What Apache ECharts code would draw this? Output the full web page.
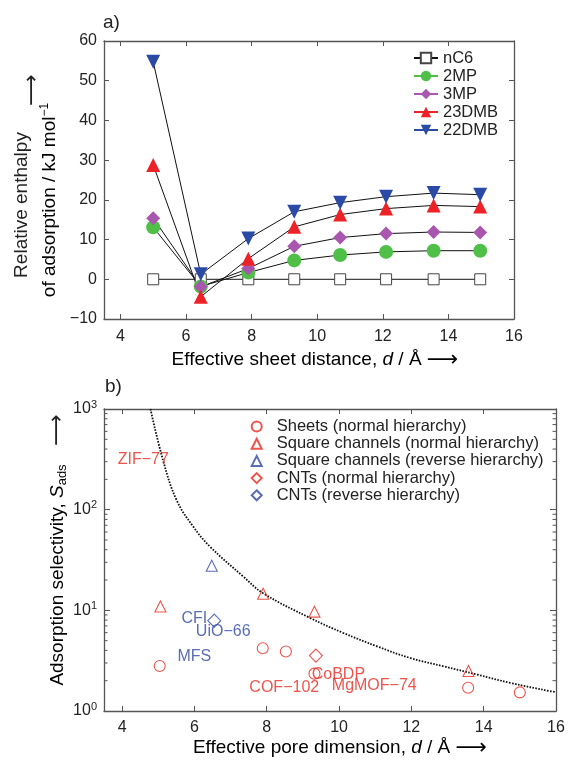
<!DOCTYPE html>
<html><head><meta charset="utf-8">
<script src="https://cdn.jsdelivr.net/npm/echarts@6/dist/echarts.min.js"></script>
<style>html,body{margin:0;padding:0;background:#fff}#c{width:568px;height:762px}</style>
</head><body><div id="c"></div>
<script>
const FONT = '"Liberation Sans", Arial, "DejaVu Sans", sans-serif';

// ---------- panel a ----------
const sheetDistance = [5.0, 6.45, 7.9, 9.3, 10.7, 12.1, 13.55, 14.97];
const nC6   = [0, 0, 0, 0, 0, 0, 0, 0];
const mp2   = [13.1, -1.8, 1.7, 4.75, 6.1, 6.9, 7.2, 7.2];
const mp3   = [15.4, -1.9, 2.7, 8.3, 10.5, 11.5, 11.9, 11.8];
const dmb23 = [28.8, -4.4, 5.2, 13.2, 16.3, 17.8, 18.6, 18.3];
const dmb22 = [54.8, 1.25, 10.25, 17.0, 19.3, 20.8, 21.7, 21.3];
const seriesNamesA = ['nC6', '2MP', '3MP', '23DMB', '22DMB'];

// ---------- panel b ----------
const sheetsD   = [5.04, 7.89, 8.53, 9.32, 13.57, 15.0];
const sheetsS   = [2.8, 4.2, 3.9, 2.35, 1.7, 1.53];
const sqNormD   = [5.06, 7.9, 9.32, 13.58];
const sqNormS   = [10.9, 14.6, 9.7, 2.5];
const sqRevD    = [6.48];
const sqRevS    = [27.7];
const cntNormD  = [9.36];
const cntNormS  = [3.55];
const cntRevD   = [6.55];
const cntRevS   = [7.9];
const curveD = [4.785, 5.13, 5.505, 5.965, 6.43, 7.35, 7.9, 9.2, 10.12, 11.05, 11.97, 12.89, 13.82, 14.74, 15.85, 16.0];
const curveS = [1000, 312, 125, 68, 43, 21.7, 14.8, 8.4, 5.96, 4.39, 3.36, 2.78, 2.3, 1.9, 1.57, 1.54];
const labelNames = ['ZIF\u221277', 'CFI', 'UiO\u221266', 'MFS', 'CoBDP', 'COF\u2212102', 'MgMOF\u221274'];
const labelD = [3.88, 5.64, 6.04, 5.53, 9.245, 7.52, 9.80];
const labelS = [312, 8.24, 6.08, 3.48, 2.29, 1.69, 1.78];
const labelIsBlue = [false, true, true, true, false, false, false];
const seriesNamesB = ['Sheets (normal hierarchy)', 'Square channels (normal hierarchy)',
  'Square channels (reverse hierarchy)', 'CNTs (normal hierarchy)', 'CNTs (reverse hierarchy)'];
const minorTicksB = [2,3,4,5,6,7,8,9,20,30,40,50,60,70,80,90,200,300,400,500,600,700,800,900];

const GREEN = '#4fbf47', PURPLE = '#a957ae', RED = '#ec2226', BLUE = '#2b4aa6';
const RED2 = '#e62a22', BLUE2 = '#3048a3';
const AX = '#555';

const zip = (xs, ys) => xs.map((x, i) => [x, ys[i]]);

const chart = echarts.init(document.getElementById('c'), null, {renderer: 'canvas'});

function xAxisDef(grid, pos, labels, margin) {
  return {
    type: 'value', gridIndex: grid, position: pos, min: 3.5, max: 16, splitNumber: 6,
    axisLine: {show: true, onZero: false, lineStyle: {color: AX, width: 1.3}},
    axisTick: {show: true, inside: true, length: 5, lineStyle: {color: AX, width: 1}},
    axisLabel: {show: labels, margin: margin, color: '#222', fontFamily: FONT, fontSize: 16,
      formatter: v => (Math.abs(v % 2) < 1e-9 ? String(v) : '')},
    splitLine: {show: false}
  };
}

const lineSeries = (name, data, symbol, size, color, extra) => Object.assign({
  name, type: 'line', xAxisIndex: 0, yAxisIndex: 0, data: zip(sheetDistance, data),
  symbol, symbolSize: size, showAllSymbol: true,
  lineStyle: {color: '#111', width: 1},
  itemStyle: {color: color, borderColor: color, borderWidth: 0}, z: 3
}, extra || {});

const scatterB = (name, xs, ys, symbol, size, color) => ({
  name, type: 'scatter', xAxisIndex: 2, yAxisIndex: 2, data: zip(xs, ys),
  symbol, symbolSize: size,
  itemStyle: {color: 'rgba(255,255,255,0)', borderColor: color, borderWidth: 1.1}, z: 4
});

const baseGraphic = [
  {type: 'text', x: 103, y: 23, style: {text: 'a)', font: '19px ' + FONT, fill: '#222', verticalAlign: 'middle'}},
  {type: 'text', x: 105, y: 387, style: {text: 'b)', font: '19px ' + FONT, fill: '#222', verticalAlign: 'middle'}},
  {type: 'text', x: 22, y: 205, rotation: Math.PI / 2,
   style: {text: 'Relative enthalpy', font: '19px ' + FONT, fill: '#222', align: 'center', verticalAlign: 'middle'}},
  {type: 'text', x: 50, y: 200, rotation: Math.PI / 2,
   style: {text: '{n|of adsorption / kJ mol}{s|\u22121}', align: 'center', verticalAlign: 'middle',
     rich: {n: {fontSize: 19, fontFamily: FONT, color: '#222'},
            s: {fontSize: 12, fontFamily: FONT, color: '#222', verticalAlign: 'top', padding: [0, 0, 10, 0]}}}},
  {type: 'text', x: 32, y: 90, rotation: Math.PI / 2,
   style: {text: '\u27F6', font: '22px "DejaVu Sans", sans-serif', fill: '#222', align: 'center', verticalAlign: 'middle'}},
  {type: 'text', x: 315, y: 360,
   style: {text: '{n|Effective sheet distance, }{i|d}{n| / \u00C5 }{a|\u27F6}', align: 'center', verticalAlign: 'middle',
     rich: {n: {fontSize: 19, fontFamily: FONT, color: '#222'},
            i: {fontSize: 19, fontFamily: FONT, fontStyle: 'italic', color: '#222'},
            a: {fontSize: 22, fontFamily: '"DejaVu Sans", sans-serif', color: '#222'}}}},
  {type: 'text', x: 58, y: 575, rotation: Math.PI / 2,
   style: {text: '{n|Adsorption selectivity, }{i|S}{s|ads}', align: 'center', verticalAlign: 'middle',
     rich: {n: {fontSize: 19, fontFamily: FONT, color: '#222'},
            i: {fontSize: 19, fontFamily: FONT, fontStyle: 'italic', color: '#222'},
            s: {fontSize: 13, fontFamily: FONT, color: '#222', verticalAlign: 'bottom', padding: [8, 0, 0, 0]}}}},
  {type: 'text', x: 57, y: 430, rotation: Math.PI / 2,
   style: {text: '\u27F6', font: '22px "DejaVu Sans", sans-serif', fill: '#222', align: 'center', verticalAlign: 'middle'}},
  {type: 'text', x: 340, y: 748,
   style: {text: '{n|Effective pore dimension, }{i|d}{n| / \u00C5 }{a|\u27F6}', align: 'center', verticalAlign: 'middle',
     rich: {n: {fontSize: 19, fontFamily: FONT, color: '#222'},
            i: {fontSize: 19, fontFamily: FONT, fontStyle: 'italic', color: '#222'},
            a: {fontSize: 22, fontFamily: '"DejaVu Sans", sans-serif', color: '#222'}}}}
];

const option = {
  animation: false,
  backgroundColor: '#fff',
  textStyle: {fontFamily: FONT},
  grid: [
    {left: 104, top: 41, width: 410, height: 278},
    {left: 104, top: 409, width: 452, height: 302}
  ],
  xAxis: [
    xAxisDef(0, 'bottom', true, 10),
    xAxisDef(0, 'top', false, 8),
    xAxisDef(1, 'bottom', true, 9),
    xAxisDef(1, 'top', false, 8)
  ],
  yAxis: [
    {type: 'value', gridIndex: 0, position: 'left', min: -10, max: 60, interval: 10,
     axisLine: {show: true, lineStyle: {color: AX, width: 1.3}},
     axisTick: {show: true, inside: true, length: 5, lineStyle: {color: AX}},
     axisLabel: {margin: 7, color: '#222', fontFamily: FONT, fontSize: 16,
       formatter: v => String(v).replace('-', '\u2212')},
     splitLine: {show: false}},
    {type: 'value', gridIndex: 0, position: 'right', min: -10, max: 60, interval: 10,
     axisLine: {show: true, lineStyle: {color: AX, width: 1.3}},
     axisTick: {show: true, inside: true, length: 5, lineStyle: {color: AX}},
     axisLabel: {show: false}, splitLine: {show: false}},
    {type: 'log', logBase: 10, gridIndex: 1, position: 'left', min: 1, max: 1000,
     axisLine: {show: true, lineStyle: {color: AX, width: 1.3}},
     axisTick: {show: true, inside: true, length: 6, lineStyle: {color: AX}},
     axisLabel: {margin: 7, color: '#222', fontFamily: FONT, fontSize: 16,
       formatter: v => '{b|10}{s|' + Math.round(Math.log10(v)) + '}',
       rich: {b: {fontSize: 16, fontFamily: FONT, color: '#222'},
              s: {fontSize: 11, fontFamily: FONT, color: '#222', verticalAlign: 'top', padding: [0, 0, 9, 0]}}},
     splitLine: {show: false}},
    {type: 'log', logBase: 10, gridIndex: 1, position: 'right', min: 1, max: 1000,
     axisLine: {show: true, lineStyle: {color: AX, width: 1.3}},
     axisTick: {show: true, inside: true, length: 6, lineStyle: {color: AX}},
     axisLabel: {show: false}, splitLine: {show: false}}
  ],
  legend: [
    {orient: 'vertical', left: 413, top: 49.5, padding: 0, itemWidth: 24, itemHeight: 13, itemGap: 1,
     textStyle: {fontFamily: FONT, fontSize: 16.5, color: '#222'},
     data: [
       {name: 'nC6', lineStyle: {color: '#111'}},
       {name: '2MP', lineStyle: {color: GREEN}},
       {name: '3MP', lineStyle: {color: PURPLE}},
       {name: '23DMB', lineStyle: {color: RED}},
       {name: '22DMB', lineStyle: {color: BLUE}}
     ]},
    {orient: 'vertical', left: 250.7, top: 418, padding: 0, itemWidth: 10, itemHeight: 10, itemGap: 0.2,
     textStyle: {fontFamily: FONT, fontSize: 16.5, color: '#222', padding: [0, 0, 0, 10]},
     data: seriesNamesB}
  ],
  series: [
    lineSeries('nC6', nC6, 'rect', 11, '#fff', {itemStyle: {color: '#fff', borderColor: '#444', borderWidth: 1}}),
    lineSeries('2MP', mp2, 'circle', 14, GREEN),
    lineSeries('3MP', mp3, 'diamond', 14, PURPLE),
    lineSeries('23DMB', dmb23, 'triangle', 14, RED),
    lineSeries('22DMB', dmb22, 'triangle', 14, BLUE, {symbolRotate: 180}),
    {type: 'line', xAxisIndex: 2, yAxisIndex: 2, data: zip(curveD, curveS), smooth: 0.4,
     symbol: 'none', lineStyle: {color: '#111', width: 1.8, type: [1.6, 1.4]}, z: 2, silent: true},
    scatterB(seriesNamesB[0], sheetsD, sheetsS, 'circle', 11, RED2),
    scatterB(seriesNamesB[1], sqNormD, sqNormS, 'triangle', 11, RED2),
    scatterB(seriesNamesB[2], sqRevD, sqRevS, 'triangle', 11, BLUE2),
    scatterB(seriesNamesB[3], cntNormD, cntNormS, 'diamond', 13, RED2),
    scatterB(seriesNamesB[4], cntRevD, cntRevS, 'diamond', 13, BLUE2),
    {type: 'scatter', xAxisIndex: 2, yAxisIndex: 2, symbolSize: 0, silent: true, z: 5,
     data: labelNames.map((n, i) => ({name: n, value: [labelD[i], labelS[i]],
       label: {color: labelIsBlue[i] ? BLUE2 : RED2}})),
     label: {show: true, position: 'right', distance: 0, formatter: p => p.name,
       fontFamily: FONT, fontSize: 16}}
  ],
  graphic: baseGraphic
};
chart.setOption(option);

// minor ticks of the log axis (left and right frame edges), placed through the axis scale
const xl = chart.convertToPixel({xAxisIndex: 2}, 3.5);
const xr = chart.convertToPixel({xAxisIndex: 2}, 16);
const tickEls = [];
minorTicksB.forEach(v => {
  const y = chart.convertToPixel({yAxisIndex: 2}, v);
  tickEls.push({type: 'line', silent: true, z: 10, shape: {x1: xl, y1: y, x2: xl + 3.5, y2: y}, style: {stroke: AX, lineWidth: 1}});
  tickEls.push({type: 'line', silent: true, z: 10, shape: {x1: xr, y1: y, x2: xr - 3.5, y2: y}, style: {stroke: AX, lineWidth: 1}});
});
chart.setOption({graphic: baseGraphic.concat(tickEls)});
</script></body></html>
